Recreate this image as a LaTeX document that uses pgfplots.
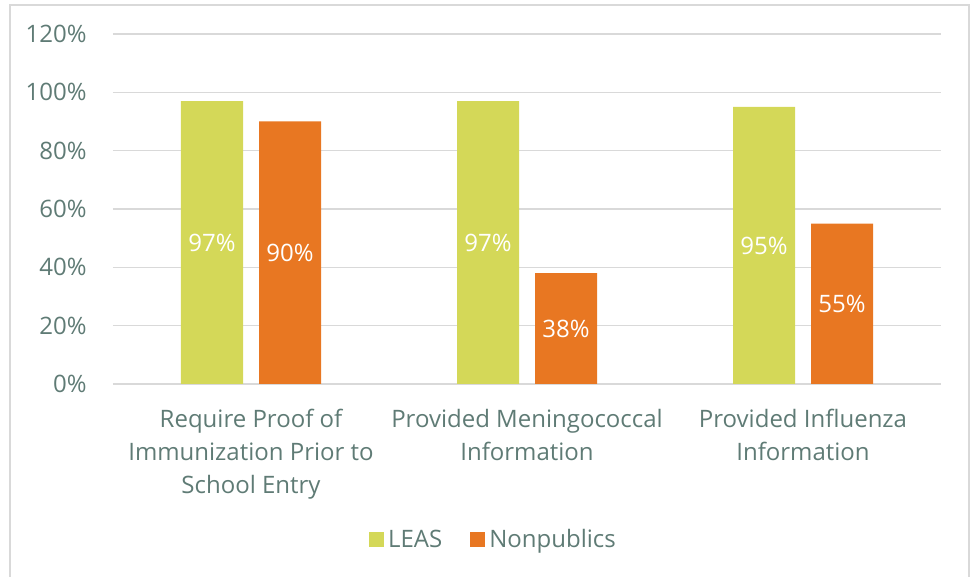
\documentclass[border=0pt]{standalone}
\usepackage{fontspec}
\setmainfont{Open Sans}
\usepackage{pgfplots}
\pgfplotsset{compat=1.18}
\definecolor{leas}{HTML}{D4D858}
\definecolor{nonpub}{HTML}{E87722}
\definecolor{txt}{HTML}{5F7B75}
\definecolor{gridc}{HTML}{D9D9D9}
\begin{document}
\begin{tikzpicture}
\useasboundingbox (0bp,0bp) rectangle (485.5bp,288.5bp);
\draw[gridc, line width=1bp] (5bp,-5bp) rectangle (484.5bp,286bp);
\begin{axis}[
  at={(56.5bp,96.5bp)}, anchor=south west,
  scale only axis, width=414bp, height=175bp,
  ybar=8bp, bar width=31bp,
  xmin=-0.5, xmax=2.5, ymin=0, ymax=120,
  xtick={0,1,2},
  xticklabels={{Require Proof of\\Immunization Prior to\\School Entry},{Provided Meningococcal\\Information},{Provided Influenza\\Information}},
  ytick={0,20,40,60,80,100,120},
  yticklabel={\pgfmathprintnumber{\tick}\%},
  /pgf/number format/assume math mode=true,
  font=\fontsize{12bp}{16.5bp}\selectfont,
  ticklabel style={text=txt, font=\fontsize{12bp}{16.5bp}\selectfont},
  yticklabel style={inner sep=0pt, xshift=-13bp},
  xticklabel style={align=center, anchor=north, inner sep=0pt, yshift=-8bp},
  tick style={draw=none},
  ymajorgrids, xmajorgrids=false,
  major grid style={draw=gridc, line width=0.75bp},
  axis line style={draw=none},
  legend style={at={(0.4607,-0.4457)}, anchor=center, draw=none, fill=none,
    legend columns=-1, text=txt, font=\fontsize{12bp}{16.5bp}\selectfont,
    /tikz/every even column/.append style={column sep=12bp}},
  legend image code/.code={\draw[#1,draw=none] (0bp,-3.75bp) rectangle (7.5bp,3.75bp);},
  nodes near coords={\pgfmathprintnumber{\pgfplotspointmeta}\%},
  visualization depends on={y \as \rawy},
  every node near coord/.append style={anchor=center, text=white, font=\fontsize{12bp}{16.5bp}\selectfont, yshift={-0.729167bp*\rawy}},
]
\addplot[fill=leas, draw=none] coordinates {(0,97) (1,97) (2,95)};
\addplot[fill=nonpub, draw=none] coordinates {(0,90) (1,38) (2,55)};
\legend{LEAS, Nonpublics}
\end{axis}
\end{tikzpicture}
\end{document}
